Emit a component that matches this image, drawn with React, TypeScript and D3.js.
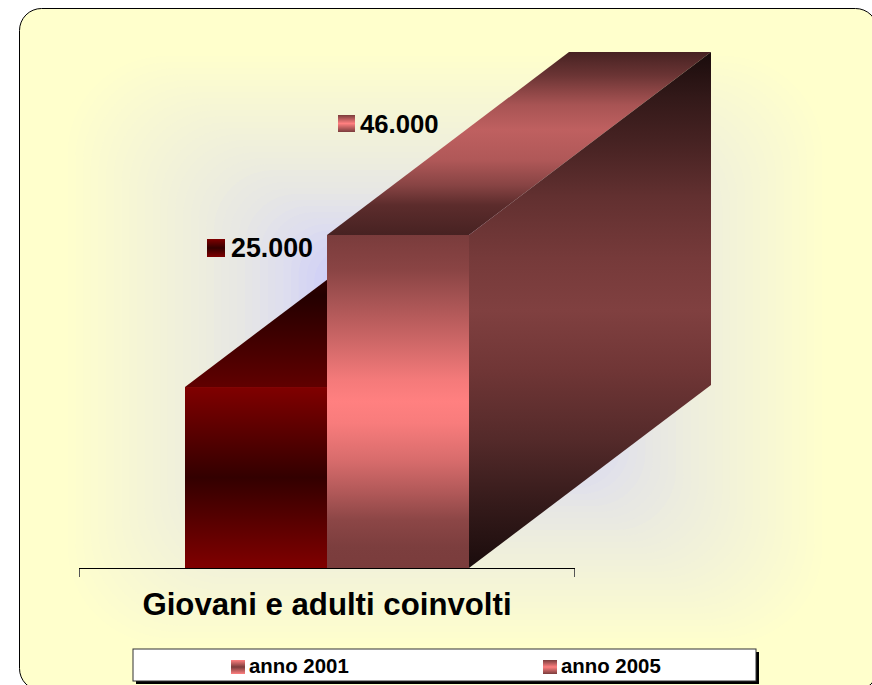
import React from "react";
import * as d3 from "d3";

const categories = ["Giovani e adulti coinvolti"];
const seriesNames = ["anno 2001", "anno 2005"];
const seriesValues = [25000, 46000];
const valueLabels = ["25.000", "46.000"];

const W = 872, H = 685;
const FONT = "'Liberation Sans', Arial, sans-serif";
const y = d3.scaleLinear().domain([0, 46000]).range([568, 235]);
const x = d3.scaleBand().domain(seriesNames).range([185, 469]).paddingInner(0).paddingOuter(0);
const depthX = 242, depthY = 183;
const bw = x.bandwidth();
const line = d3.line();

// concentric rounded rectangles for the panel's rectangular path gradient
const bgCx = 445, bgCy = 350, bgHx = 385, bgHy = 300;
const bgColor = d3.scaleLinear<string>()
  .domain([0.27, 0.34, 0.43, 0.53, 0.66, 0.77, 0.87, 1])
  .range(["#ccccff", "#d2d2f5", "#dedeee", "#e6e6e5", "#eeeedd", "#f3f3d8", "#f9f9d2", "#ffffcc"])
  .clamp(true);
const bgSteps = d3.range(1, 0.0, -0.02);

type Stop = [number, string];
const frontStops1: Stop[] = [[0, "#7a3c3c"], [0.105, "#8a4444"], [0.195, "#a65353"], [0.315, "#cc6666"], [0.435, "#f47a7a"], [0.5, "#ff8080"], [0.565, "#f87c7c"], [0.676, "#d86c6c"], [0.775, "#b05858"], [0.856, "#8c4646"], [0.937, "#7c3e3e"], [1, "#7a3c3c"]];
const sideStops1: Stop[] = [[0, "#1a0c0c"], [0.09, "#331919"], [0.19, "#4a2424"], [0.28, "#623030"], [0.4, "#763a3a"], [0.5, "#804040"], [0.616, "#703636"], [0.75, "#542a2a"], [0.87, "#361b1b"], [1, "#1a0c0c"]];
const topStops1: Stop[] = [[0, "#472222"], [0.126, "#6a3434"], [0.208, "#8a4444"], [0.29, "#a85454"], [0.426, "#bf6060"], [0.59, "#b05858"], [0.727, "#884444"], [0.836, "#5c2c2c"], [1, "#472222"]];

function BoxGrad({ id, stops }: { id: string; stops: Stop[] }) {
  return (
    <linearGradient id={id} x1={0} x2={0} y1={0} y2={1}>
      {stops.map(([o, c], i) => <stop key={i} offset={o} stopColor={c} />)}
    </linearGradient>
  );
}
const tri = (edge: string, mid: string): Stop[] => [[0, edge], [0.5, mid], [1, edge]];

export default function App() {
  const x0 = x(seriesNames[0])!, x1 = x(seriesNames[1])!;
  const base = y(0);
  const t0 = y(seriesValues[0]), t1 = y(seriesValues[1]);
  const slope = depthY / depthX;
  const top0 = line([[x0, t0], [x1, t0 - bw * slope], [x1, t0]])!;
  const top1 = line([[x1, t1], [x1 + depthX, t1 - depthY], [x1 + bw + depthX, t1 - depthY], [x1 + bw, t1]])!;
  const side1 = line([[x1 + bw, t1], [x1 + bw + depthX, t1 - depthY], [x1 + bw + depthX, base - depthY], [x1 + bw, base]])!;
  return (
    <svg width={W} height={H} viewBox={`0 0 ${W} ${H}`} style={{ position: "absolute", left: 0, top: 0, display: "block" }}>
      <defs>
        <clipPath id="panel"><rect x={19.5} y={8.5} width={858} height={682} rx={22} /></clipPath>
        <BoxGrad id="front0" stops={tri("#800000", "#330000")} />
        <BoxGrad id="front1" stops={frontStops1} />
        <linearGradient id="top0" gradientUnits="userSpaceOnUse" x1={0} x2={0} y1={t0 - depthY} y2={t0}>
          <stop offset={0} stopColor="#600000" />
          <stop offset={0.5} stopColor="#240000" />
          <stop offset={1} stopColor="#600000" />
        </linearGradient>
        <BoxGrad id="top1" stops={topStops1} />
        <BoxGrad id="side1" stops={sideStops1} />
        <BoxGrad id="sw0" stops={tri("#800000", "#330000")} />
        <BoxGrad id="sw1" stops={tri("#7a3c3c", "#ff8080")} />
        <BoxGrad id="swA" stops={tri("#ff8080", "#7a3c3c")} />
      </defs>

      <rect x={19.5} y={8.5} width={858} height={682} rx={22} fill="#ffffcc" />
      <g clipPath="url(#panel)">
        {bgSteps.map((t) => (
          <rect key={t} x={bgCx - bgHx * t} y={bgCy - bgHy * t} width={2 * bgHx * t} height={2 * bgHy * t}
            rx={100 * t} fill={bgColor(t)} />
        ))}
      </g>
      <rect x={19.5} y={8.5} width={858} height={682} rx={22} fill="none" stroke="#000" strokeWidth={1} />

      <path d={top0} fill="url(#top0)" />
      <rect x={x0} y={t0} width={bw} height={base - t0} fill="url(#front0)" />
      <path d={top1} fill="url(#top1)" />
      <path d={side1} fill="url(#side1)" />
      <rect x={x1} y={t1} width={bw} height={base - t1} fill="url(#front1)" />

      <path d="M79.5,577V569M574.5,577V569" fill="none" stroke="#555" strokeWidth={1} />
      <path d="M79,568.5H575" fill="none" stroke="#000" strokeWidth={1} />
      <text x={327} y={615} textAnchor="middle" fontFamily={FONT} fontWeight={700} fontSize={31.2}>{categories[0]}</text>

      <rect x={207} y={239} width={18} height={18} fill="url(#sw0)" />
      <text x={231} y={257} fontFamily={FONT} fontWeight={700} fontSize={26.8}>{valueLabels[0]}</text>
      <rect x={338} y={115} width={17} height={17} fill="url(#sw1)" />
      <text x={360} y={132.5} fontFamily={FONT} fontWeight={700} fontSize={25.7}>{valueLabels[1]}</text>

      <rect x={136} y={652} width={623} height={32} fill="#000" />
      <rect x={133} y={649} width={623} height={32} fill="#fff" stroke="#333" strokeWidth={1} />
      <rect x={231} y={660} width={14} height={14} fill="url(#swA)" />
      <text x={249} y={673} fontFamily={FONT} fontWeight={700} fontSize={20.4}>{seriesNames[0]}</text>
      <rect x={543} y={660} width={14} height={14} fill="url(#sw1)" />
      <text x={561} y={673} fontFamily={FONT} fontWeight={700} fontSize={20.4}>{seriesNames[1]}</text>
    </svg>
  );
}
